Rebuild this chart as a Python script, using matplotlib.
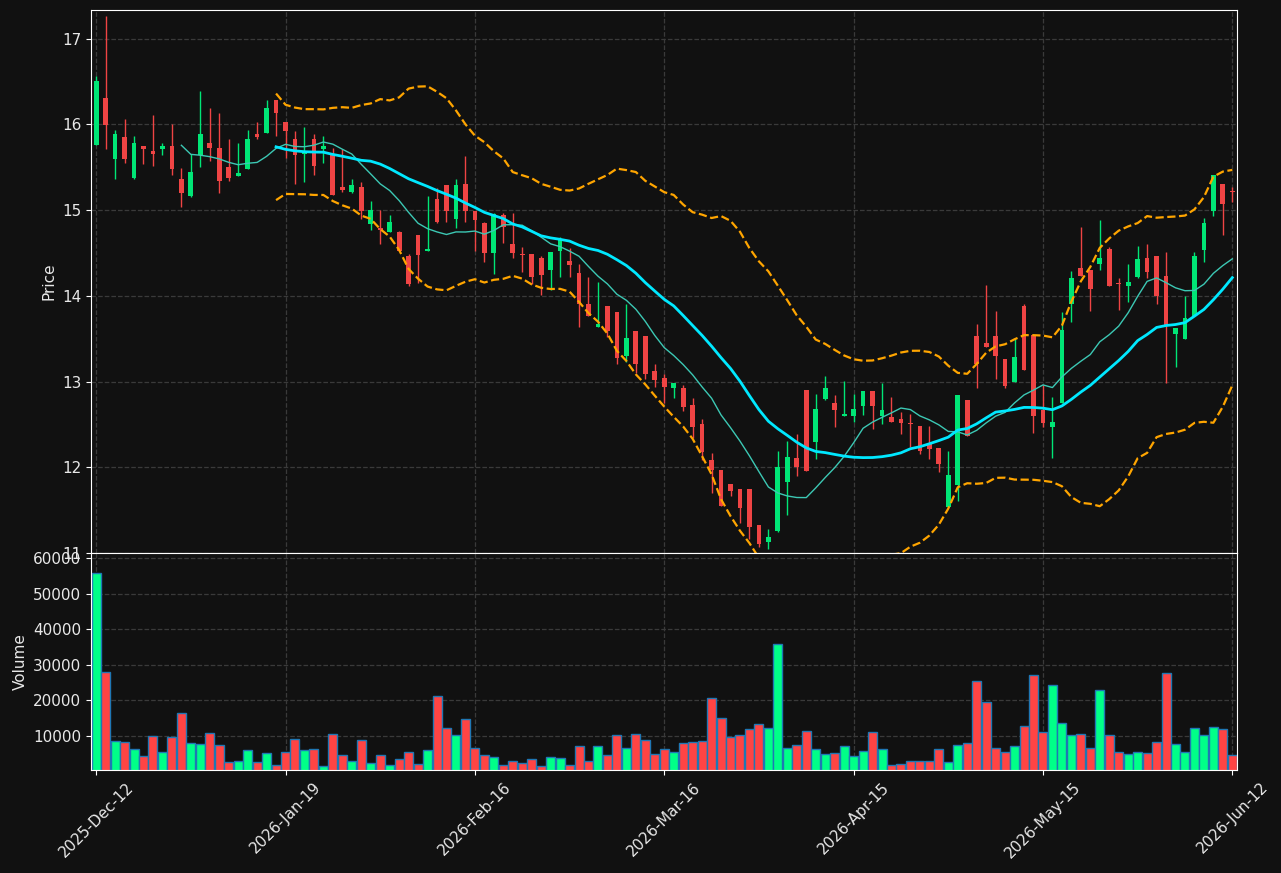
import matplotlib

matplotlib.use("Agg")
import matplotlib.pyplot as plt
import numpy as np
import pandas as pd

# daily OHLC (index 0 = 2025-Dec-12)
opens = [
    15.76, 16.31, 15.60, 15.85, 15.38, 15.75, 15.69, 15.71, 15.75, 15.36,
    15.16, 15.64, 15.78, 15.73, 15.50, 15.40, 15.48, 15.89, 15.90, 16.29,
    16.03, 15.83, 15.66, 15.83, 15.71, 15.66, 15.27, 15.21, 15.27, 14.84,
    14.79, 14.74, 14.75, 14.47, 14.71, 14.52, 15.13, 15.29, 14.90, 15.31,
    14.99, 14.85, 14.50, 14.94, 14.61, 14.49, 14.49, 14.44, 14.30, 14.52,
    14.41, 14.27, 13.91, 13.64, 13.88, 13.81, 13.30, 13.59, 13.53, 13.12,
    13.04, 12.92, 12.93, 12.73, 12.51, 12.09, 11.97, 11.81, 11.75, 11.75,
    11.33, 11.13, 11.26, 11.83, 12.11, 12.90, 12.30, 12.80, 12.75, 12.60,
    12.60, 12.72, 12.89, 12.60, 12.59, 12.56, 12.51, 12.48, 12.27, 12.23,
    11.54, 11.79, 12.79, 13.53, 13.45, 13.53, 13.26, 13.00, 13.88, 13.54,
    12.67, 12.47, 12.75, 13.90, 14.33, 14.30, 14.37, 14.55, 14.15, 14.12,
    14.22, 14.44, 14.47, 14.23, 13.56, 13.50, 13.76, 14.54, 14.99, 15.31,
    15.22,
]
highs = [
    16.57, 17.27, 15.94, 16.06, 15.86, 15.75, 16.11, 15.78, 16.00, 15.49,
    15.66, 16.39, 16.19, 16.13, 15.83, 15.78, 15.94, 16.03, 16.29, 16.29,
    16.03, 15.92, 15.97, 15.89, 15.86, 15.72, 15.71, 15.36, 15.33, 15.11,
    15.00, 14.94, 14.76, 14.49, 14.71, 15.16, 15.26, 15.29, 15.36, 15.63,
    14.99, 14.86, 14.97, 14.97, 14.97, 14.57, 14.49, 14.46, 14.51, 14.69,
    14.56, 14.37, 14.22, 14.16, 13.88, 13.81, 13.90, 13.59, 13.53, 13.21,
    13.09, 12.98, 12.96, 12.81, 12.56, 12.17, 11.97, 11.81, 11.75, 11.75,
    11.33, 11.28, 12.19, 12.31, 12.39, 12.90, 12.86, 13.07, 12.84, 13.01,
    12.86, 12.89, 12.89, 12.98, 12.82, 12.64, 12.62, 12.48, 12.48, 12.23,
    12.19, 12.84, 12.79, 13.67, 14.13, 13.82, 13.26, 13.51, 13.91, 13.54,
    12.96, 12.82, 13.81, 14.29, 14.80, 14.30, 14.89, 14.57, 14.21, 14.37,
    14.58, 14.60, 14.47, 14.51, 13.63, 14.00, 14.51, 14.91, 15.41, 15.31,
    15.27,
]
lows = [
    15.76, 15.71, 15.36, 15.55, 15.36, 15.54, 15.52, 15.64, 15.41, 15.04,
    15.15, 15.50, 15.57, 15.20, 15.34, 15.40, 15.48, 15.83, 15.90, 15.86,
    15.61, 15.31, 15.33, 15.41, 15.55, 15.18, 15.21, 15.20, 14.90, 14.77,
    14.60, 14.74, 14.52, 14.12, 14.15, 14.52, 14.85, 14.86, 14.79, 14.86,
    14.52, 14.40, 14.26, 14.62, 14.44, 14.28, 14.14, 14.01, 14.07, 14.22,
    14.22, 13.64, 13.76, 13.64, 13.52, 13.21, 13.23, 13.10, 13.03, 12.94,
    12.75, 12.81, 12.66, 12.34, 12.09, 11.70, 11.55, 11.66, 11.35, 11.16,
    11.07, 11.05, 11.25, 11.44, 11.90, 11.96, 12.10, 12.78, 12.47, 12.60,
    12.53, 12.61, 12.45, 12.50, 12.53, 12.39, 12.24, 12.16, 12.10, 11.94,
    11.54, 11.61, 12.36, 12.92, 13.40, 13.03, 12.92, 13.00, 13.14, 12.40,
    12.47, 12.11, 12.75, 13.70, 14.23, 13.82, 14.30, 14.12, 13.84, 13.93,
    14.21, 14.21, 13.90, 12.98, 13.17, 13.50, 13.76, 14.40, 14.93, 14.71,
    15.10,
]
closes = [
    16.51, 15.99, 15.89, 15.60, 15.78, 15.71, 15.66, 15.75, 15.48, 15.20,
    15.45, 15.89, 15.72, 15.34, 15.38, 15.43, 15.83, 15.85, 16.19, 16.13,
    15.92, 15.64, 15.69, 15.52, 15.75, 15.18, 15.24, 15.29, 14.99, 15.00,
    14.77, 14.86, 14.52, 14.14, 14.48, 14.55, 14.86, 14.99, 15.29, 14.99,
    14.88, 14.50, 14.95, 14.80, 14.50, 14.48, 14.22, 14.24, 14.51, 14.66,
    14.36, 13.90, 13.76, 13.67, 13.59, 13.28, 13.51, 13.20, 13.09, 13.02,
    12.94, 12.98, 12.70, 12.47, 12.18, 11.97, 11.55, 11.72, 11.52, 11.30,
    11.10, 11.19, 12.00, 12.12, 12.00, 11.96, 12.68, 12.93, 12.67, 12.62,
    12.68, 12.89, 12.72, 12.67, 12.53, 12.52, 12.50, 12.19, 12.21, 12.04,
    11.91, 12.84, 12.36, 13.21, 13.40, 13.30, 12.95, 13.29, 13.14, 12.60,
    12.52, 12.53, 13.60, 14.21, 14.23, 14.08, 14.44, 14.12, 14.14, 14.16,
    14.43, 14.28, 14.00, 13.66, 13.63, 13.74, 14.47, 14.85, 15.41, 15.07,
    15.21,
]
volumes = [
    55700, 27900, 8500, 8200, 6260, 4300, 9900, 5400, 9600, 16400,
    7900, 7700, 10700, 7400, 2600, 2900, 6000, 2600, 5100, 1770,
    5400, 9100, 6000, 6260, 1500, 10500, 4600, 2900, 8800, 2300,
    4600, 1770, 3450, 5400, 2050, 6000, 21150, 12200, 10200, 14700,
    6550, 4600, 4000, 1770, 2900, 2300, 3450, 1500, 4000, 3700,
    1770, 7100, 2900, 7100, 4600, 10200, 6550, 10500, 8800, 4860,
    6260, 5400, 7900, 8200, 8500, 20600, 15000, 9600, 10200, 11900,
    13300, 12200, 35760, 6550, 7400, 11300, 6260, 4860, 5100, 7100,
    4300, 5700, 11000, 6260, 1770, 2050, 2900, 2900, 2900, 6260,
    2600, 7400, 7900, 25360, 19550, 6550, 5400, 7100, 12700, 27050,
    11000, 24240, 13570, 10200, 10500, 6550, 22840, 10200, 5400, 4860,
    5400, 5100, 8200, 27600, 7700, 5400, 12200, 10200, 12440, 11900,
    4600,
]
tick_positions = [0, 20, 40, 60, 80, 100, 120]
tick_labels = ["2025-Dec-12", "2026-Jan-19", "2026-Feb-16", "2026-Mar-16",
               "2026-Apr-15", "2026-May-15", "2026-Jun-12"]

BG = "#111111"
GRID = "#3a3a3a"
TEXT = "#e8e8e8"
UP = "#00e676"
DOWN = "#ef4444"
VOL_UP = "#00ff88"
VOL_DOWN = "#ff4444"

o = np.array(opens)
h = np.array(highs)
l = np.array(lows)
c = np.array(closes)
x = np.arange(len(c))
up = c >= o

close_series = pd.Series(c)
ma10 = close_series.rolling(10).mean()
ma20 = close_series.rolling(20).mean()
std20 = close_series.rolling(20).std(ddof=0)
upper = ma20 + 2 * std20
lower = ma20 - 2 * std20

fig = plt.figure(figsize=(12.81, 8.73), dpi=100, facecolor=BG)
ax = fig.add_axes([0.0710, 0.3666, 0.8947, 0.6219])
axv = fig.add_axes([0.0710, 0.1180, 0.8947, 0.2486], sharex=ax)

for a in (ax, axv):
    a.set_facecolor(BG)
    a.grid(True, linestyle="--", color=GRID, linewidth=0.9)
    a.set_axisbelow(True)
    for spine in a.spines.values():
        spine.set_color("white")
    a.tick_params(colors="white", labelcolor=TEXT, labelsize=11)

# candles
colors = np.where(up, UP, DOWN)
ax.vlines(x, l, h, colors=colors, linewidth=1)
body_low = np.minimum(o, c)
body_h = np.maximum(np.abs(c - o), 0.012)
ax.bar(x, body_h, bottom=body_low, width=0.5, color=colors, linewidth=0)

ax.plot(x, ma10, color="#3cc8b4", linewidth=1)
ax.plot(x, ma20, color="#00e8ff", linewidth=2)
ax.plot(x, upper, color="orange", linestyle="--", linewidth=1.6)
ax.plot(x, lower, color="orange", linestyle="--", linewidth=1.6)

ax.set_ylim(11.0, 17.335)
ax.set_yticks([11, 12, 13, 14, 15, 16, 17])
ax.set_ylabel("Price", color=TEXT, fontsize=11)
ax.tick_params(axis="x", bottom=False, labelbottom=False)

# volume
vcolors = np.where(up, VOL_UP, VOL_DOWN)
axv.bar(x, volumes, width=0.95, color=vcolors, edgecolor="#1f77b4", linewidth=1)
axv.set_ylim(450, 61400)
axv.set_yticks([10000, 20000, 30000, 40000, 50000, 60000])
axv.set_ylabel("Volume", color=TEXT, fontsize=11)
axv.set_xticks(tick_positions)
axv.set_xticklabels(tick_labels, rotation=45)
axv.set_xlim(-0.55, len(c) - 0.5)

fig.savefig("out.png", dpi=100, facecolor=BG)
